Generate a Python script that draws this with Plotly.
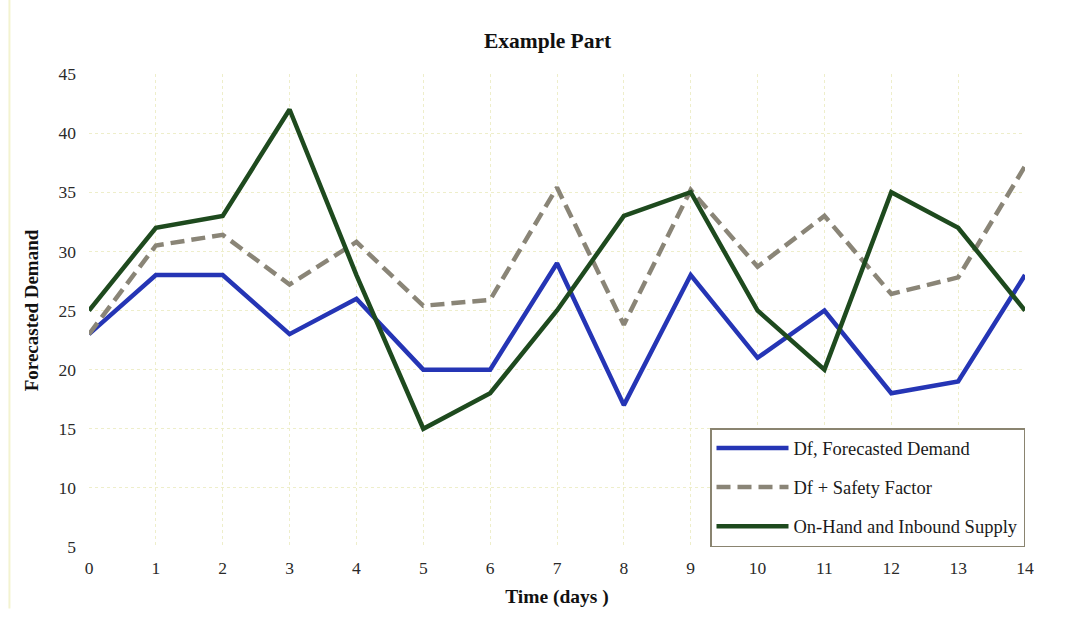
import plotly.graph_objects as go

days = list(range(15))
df_demand = [23, 28, 28, 23, 26, 20, 20, 29, 17, 28, 21, 25, 18, 19, 28]
df_safety = [23, 30.5, 31.4, 27.2, 30.8, 25.4, 25.9, 35.4, 23.8, 35.2, 28.7, 33.0, 26.4, 27.8, 37.2]
supply = [25, 32, 33, 42, 28, 15, 18, 25, 33, 35, 25, 20, 35, 32, 25]
y_ticks = [5, 10, 15, 20, 25, 30, 35, 40, 45]

SERIF = "Liberation Serif, Times New Roman, serif"

fig = go.Figure()
fig.add_trace(go.Scatter(x=days, y=df_demand, mode="lines", name="Df, Forecasted Demand",
                         line=dict(color="#2535B5", width=4.5), legendgroup="a"))
fig.add_trace(go.Scatter(x=days, y=df_safety, mode="lines", name="Df + Safety Factor",
                         line=dict(color="#8A8577", width=4.5, dash="14px,7px"), legendgroup="b"))
fig.add_trace(go.Scatter(x=days, y=supply, mode="lines", name="On-Hand and Inbound Supply",
                         line=dict(color="#1E4A1E", width=4.5), legendgroup="c"))

fig.update_layout(
    width=1078, height=620,
    margin=dict(l=89, r=53, t=74, b=73),
    paper_bgcolor="white", plot_bgcolor="white",
    font=dict(family=SERIF, color="#222222", size=16),
    title=dict(text="<b>Example Part</b>", x=0.508, xanchor="center", y=0.935, yanchor="middle",
               font=dict(family=SERIF, size=21.5, color="#111111")),
    xaxis=dict(range=[0, 14], tickmode="array", tickvals=days, ticktext=[str(d) for d in days],
               showgrid=True, gridcolor="#EEEECA", griddash="dot", gridwidth=1,
               zeroline=False, showline=False, ticks="", ticklabelstandoff=8,
               tickfont=dict(family=SERIF, size=17.5, color="#2a2a2a"),
               title=dict(text="<b>Time (days )</b>", standoff=12,
                          font=dict(family=SERIF, size=19.5, color="#111111"))),
    yaxis=dict(range=[5, 45], tickmode="array", tickvals=y_ticks,
               showgrid=True, gridcolor="#EEEECA", griddash="dot", gridwidth=1,
               zeroline=False, showline=False, ticks="", ticklabelstandoff=12,
               tickfont=dict(family=SERIF, size=17.5, color="#2a2a2a"),
               title=dict(text="<b>Forecasted Demand</b>", standoff=14,
                          font=dict(family=SERIF, size=19, color="#111111"))),
    legend=dict(x=1.0, xanchor="right", y=0.0, yanchor="bottom",
                bgcolor="white", bordercolor="#8A8470", borderwidth=1.5,
                font=dict(family=SERIF, size=18.5, color="#1a1a1a"),
                traceorder="grouped", tracegroupgap=12, itemwidth=72),
    shapes=[dict(type="line", xref="paper", yref="paper", x0=-0.085, x1=-0.085, y0=-0.13, y1=1.16,
                 line=dict(color="#F3F3D0", width=2))],
)

fig.write_html("out.html")
